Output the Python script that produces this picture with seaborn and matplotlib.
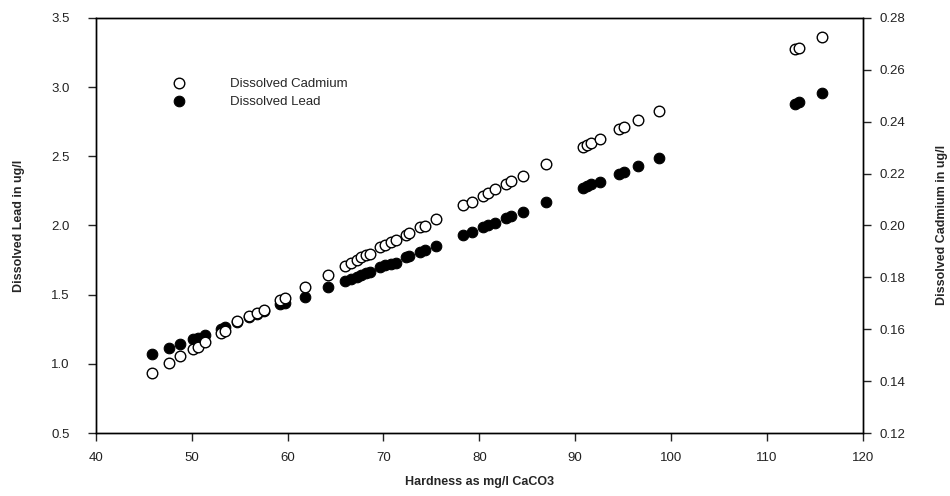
import pandas as pd
import matplotlib
matplotlib.use('Agg')
import matplotlib.pyplot as plt
import seaborn as sns

# Data
hardness = [45.9, 47.6, 48.8, 50.1, 50.6, 51.4, 53.1, 53.5, 54.7, 56.0,
            56.8, 57.5, 59.2, 59.7, 61.8, 64.2, 66.0, 66.6, 67.2, 67.7,
            68.2, 68.6, 69.6, 70.2, 70.8, 71.3, 72.4, 72.7, 73.8, 74.3,
            75.5, 78.3, 79.2, 80.4, 80.9, 81.6, 82.8, 83.3, 84.6, 87.0,
            90.8, 91.2, 91.7, 92.6, 94.6, 95.1, 96.6, 98.8, 112.9, 113.4,
            115.8]
lead = [1.07, 1.115, 1.145, 1.18, 1.19, 1.21, 1.255, 1.265, 1.30, 1.335,
        1.36, 1.385, 1.43, 1.44, 1.485, 1.553, 1.60, 1.616, 1.63, 1.643,
        1.655, 1.665, 1.70, 1.712, 1.722, 1.73, 1.77, 1.778, 1.805, 1.82,
        1.852, 1.93, 1.953, 1.987, 2.0, 2.02, 2.052, 2.068, 2.10, 2.17,
        2.274, 2.286, 2.298, 2.317, 2.373, 2.387, 2.431, 2.486, 2.875, 2.89,
        2.96]
cadmium = [0.1432, 0.147, 0.1496, 0.1524, 0.1532, 0.155, 0.1587, 0.1594, 0.163, 0.165,
           0.1663, 0.1674, 0.1713, 0.1719, 0.1762, 0.181, 0.1844, 0.1855, 0.1867, 0.1877,
           0.1885, 0.189, 0.1916, 0.1925, 0.1935, 0.1943, 0.1963, 0.197, 0.1993, 0.1998,
           0.2025, 0.2079, 0.2092, 0.2115, 0.2124, 0.2139, 0.216, 0.2171, 0.2191, 0.2237,
           0.2304, 0.231, 0.2319, 0.2332, 0.2371, 0.2378, 0.2407, 0.2441, 0.2679, 0.2685,
           0.2728]

lead_ticks = [0.5, 1.0, 1.5, 2.0, 2.5, 3.0, 3.5]
cad_ticks = [0.12, 0.14, 0.16, 0.18, 0.20, 0.22, 0.24, 0.26, 0.28]
x_ticks = [40, 50, 60, 70, 80, 90, 100, 110, 120]

df = pd.DataFrame({'Hardness': hardness, 'Lead': lead, 'Cadmium': cadmium})

sns.set_style('ticks')
plt.rcParams['font.family'] = ['Liberation Sans', 'DejaVu Sans']
plt.rcParams['xtick.direction'] = 'out'
plt.rcParams['ytick.direction'] = 'out'

fig = plt.figure(figsize=(9.5, 4.96), dpi=100)
ax = fig.add_axes([0.101, 0.127, 0.807, 0.837])
ax2 = ax.twinx()

sns.scatterplot(data=df, x='Hardness', y='Lead', ax=ax, s=58, color='black',
                edgecolor='black', linewidth=0.8, label='Dissolved Lead', legend=False)
sns.scatterplot(data=df, x='Hardness', y='Cadmium', ax=ax2, s=58, color='white',
                edgecolor='black', linewidth=1.0, label='Dissolved Cadmium', legend=False)

ax.set_xlim(40, 120)
ax.set_ylim(0.5, 3.5)
ax2.set_ylim(0.12, 0.28)
ax.set_xticks(x_ticks)
ax.set_yticks(lead_ticks)
ax2.set_yticks(cad_ticks)
ax.set_xticklabels([str(t) for t in x_ticks])
ax.set_yticklabels([f'{t:.1f}' for t in lead_ticks])
ax2.set_yticklabels([f'{t:.2f}' for t in cad_ticks])

for a in (ax, ax2):
    a.tick_params(labelsize=9.5, length=6, width=1, colors='#222222', pad=6)
    for sp in a.spines.values():
        sp.set_visible(True)
        sp.set_linewidth(1)
        sp.set_color('black')
ax.tick_params(axis='y', pad=13)
ax.tick_params(axis='x', pad=8)

ax.set_xlabel('Hardness as mg/l CaCO3', fontsize=9, fontweight='bold', labelpad=8)
ax.set_ylabel('Dissolved Lead in ug/l', fontsize=9, fontweight='bold', labelpad=19)
ax2.set_ylabel('Dissolved Cadmium in ug/l', fontsize=9, fontweight='bold',
               labelpad=22, rotation=90)

h1, l1 = ax2.get_legend_handles_labels()
h2, l2 = ax.get_legend_handles_labels()
ax.legend(h1 + h2, l1 + l2, loc='upper left', bbox_to_anchor=(0.075, 0.885),
          frameon=False, fontsize=9.5, handletextpad=2.9, labelspacing=0.45,
          markerscale=1.0)

fig.savefig('out.png', dpi=100)
